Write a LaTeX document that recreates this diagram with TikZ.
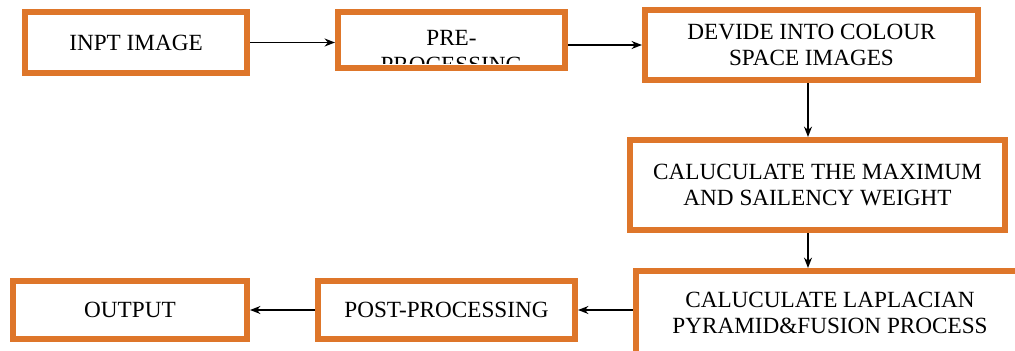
\documentclass[tikz,border=0pt]{standalone}
\usepackage{fontspec}
\setmainfont{Liberation Serif}
\usepackage{tikz}
\usetikzlibrary{arrows.meta}

\definecolor{boxorange}{RGB}{222,118,42}

\begin{document}
\begin{tikzpicture}[x=0.025cm, y=-0.025cm, >={Stealth[length=0.26cm,width=0.2cm]},
    block/.style = {draw = boxorange, line width = 0.15cm, fill = white,
        inner sep = 0pt, align = center,
        font = \fontsize{16.5}{19}\selectfont},
    link/.style = {line width = 0.035cm, draw = black}]
        \clip (0,0) rectangle (1015,350);
        \useasboundingbox (0,0) rectangle (1015,350);

        \node (input_diag)[block, minimum width = 5.55cm, minimum height = 1.525cm]
        at (136,42.5) {INPT IMAGE};
        \node (pre_diag)[block, minimum width = 5.675cm, minimum height = 1.4cm]
        at (451.5,40) {};
        \begin{scope}
            \clip ([xshift=0.15cm,yshift=0.2cm]pre_diag.south west)
            rectangle ([xshift=-0.15cm,yshift=-0.15cm]pre_diag.north east);
            \node (pre_text)[align = center, inner sep = 0pt,
            font = \fontsize{16.5}{19}\selectfont] at (451.5,51.5) {PRE-\\PROCESSING};
        \end{scope}
        \node (colour_diag)[block, minimum width = 8.325cm, minimum height = 1.75cm]
        at (811.5,45) {DEVIDE INTO COLOUR\\SPACE IMAGES};

        \node (weight_diag)[block, minimum width = 9.375cm, minimum height = 2.25cm]
        at (817.5,185) {CALUCULATE THE MAXIMUM\\AND SAILENCY WEIGHT};

        \node (fusion_diag)[block, minimum width = 9.7cm, minimum height = 2.1cm]
        at (830,313) {CALUCULATE LAPLACIAN\\PYRAMID\&FUSION PROCESS};
        \node (post_diag)[block, minimum width = 6.425cm, minimum height = 1.45cm]
        at (446.5,310) {POST-PROCESSING};
        \node (output_diag)[block, minimum width = 5.85cm, minimum height = 1.45cm]
        at (130,310) {OUTPUT};

        \coordinate (down_link) at (808,0);
        \path(input_diag.east) edge[link, ->] (pre_diag.west |- input_diag.east);
        \path(pre_diag.east |- colour_diag.west) edge[link, ->] (colour_diag.west);
        \path(colour_diag.south -| down_link) edge[link, ->] (weight_diag.north -| down_link);
        \path(weight_diag.south -| down_link) edge[link, ->] (fusion_diag.north -| down_link);
        \path(fusion_diag.west |- post_diag) edge[link, ->] (post_diag.east);
        \path(post_diag.west) edge[link, ->] (output_diag.east);
    \end{tikzpicture}
\end{document}
